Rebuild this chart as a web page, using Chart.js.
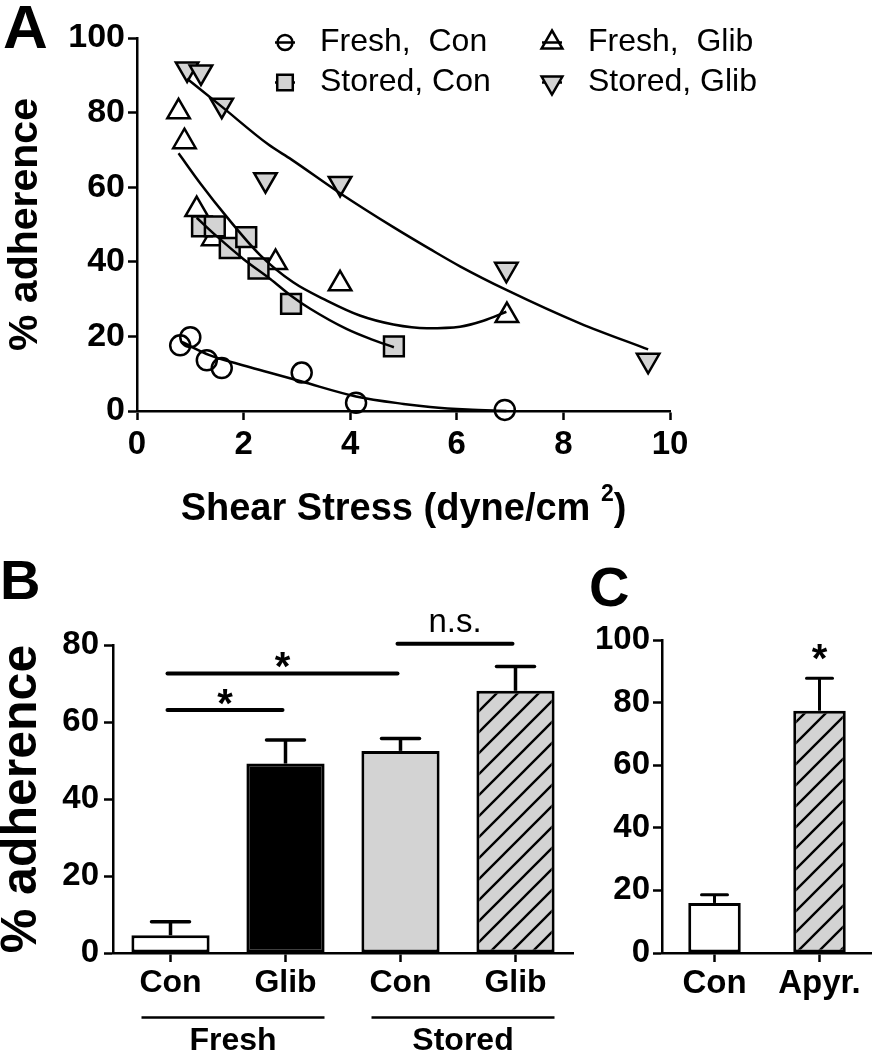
<!DOCTYPE html>
<html>
<head>
<meta charset="utf-8">
<script src="https://cdn.jsdelivr.net/npm/chart.js@4.4.1/dist/chart.umd.min.js"></script>
<style>
  html, body { margin: 0; padding: 0; background: #fff; }
  #wrap { position: relative; width: 872px; height: 1050px; overflow: hidden; background: #fff; }
  .box { position: absolute; }
  canvas { display: block; }
</style>
</head>
<body>
<div id="wrap">
  <div class="box" style="left:0;top:0;"><canvas id="cA" width="872" height="545"></canvas></div>
  <div class="box" style="left:0;top:560px;"><canvas id="cB" width="580" height="490"></canvas></div>
  <div class="box" style="left:580px;top:560px;"><canvas id="cC" width="292" height="490"></canvas></div>
</div>
<script>
// ---------------- DATA ----------------
// Panel A: measured points (shear stress, % adherence)
const freshConX   = [0.81, 1.00, 1.31, 1.59, 3.09, 4.11, 6.90];
const freshConY   = [17.6, 19.8, 13.6, 11.5, 10.3, 2.2, 0.3];
const freshGlibX  = [0.78, 0.89, 1.12, 1.43, 2.60, 3.81, 6.94];
const freshGlibY  = [80.2, 72.2, 54.0, 46.2, 39.8, 34.1, 25.6];
const storedConX  = [1.22, 1.46, 1.74, 2.05, 2.28, 2.89, 4.82];
const storedConY  = [49.5, 49.5, 43.7, 46.6, 38.2, 28.7, 17.3];
const storedGlibX = [0.94, 1.20, 1.59, 2.41, 3.81, 6.93, 9.59];
const storedGlibY = [91.7, 90.9, 82.0, 62.0, 61.0, 38.0, 13.6];

// Panel A: fitted curves
const fitFreshConX   = [0.84, 1.36, 2.00, 2.46, 3.09, 4.11, 5.00, 5.50, 6.20, 6.93];
const fitFreshConY   = [18.5, 15.0, 12.2, 10.4, 7.9, 3.9, 1.9, 1.1, 0.4, 0.0];
const fitFreshGlibX  = [0.78, 1.20, 1.68, 2.31, 2.93, 3.56, 4.18, 4.81, 5.44, 6.06, 6.50, 6.93];
const fitFreshGlibY  = [69.1, 60.8, 52.1, 41.8, 34.5, 29.6, 25.6, 23.2, 22.2, 22.6, 24.2, 26.6];
const fitStoredConX  = [1.12, 1.50, 2.00, 2.50, 2.89, 3.25, 3.93, 4.40, 4.82];
const fitStoredConY  = [51.8, 46.8, 40.7, 35.4, 30.9, 27.4, 22.0, 19.2, 17.1];
const fitStoredGlibX = [0.94, 1.59, 2.46, 2.90, 3.81, 4.81, 5.50, 6.06, 6.94, 8.31, 9.59];
const fitStoredGlibY = [89.1, 81.6, 71.5, 67.4, 58.4, 49.3, 43.4, 38.8, 32.4, 23.5, 16.5];

const seriesNamesA = ['Fresh,  Con', 'Fresh,  Glib', 'Stored, Con', 'Stored, Glib'];
const xTicksA = [0, 2, 4, 6, 8, 10];
const yTicksA = [0, 20, 40, 60, 80, 100];
const xTitleA = ['Shear Stress (dyne/cm ', '2', ')'];
const yTitle = '% adherence';

// Panel B
const catsB = ['Con', 'Glib', 'Con', 'Glib'];
const groupsB = ['Fresh', 'Stored'];
const meansB = [4.6, 49.2, 52.5, 68.1];
const semB = [3.5, 6.1, 3.2, 6.3];
const yTicksB = [0, 20, 40, 60, 80];
const sigPairsB = [[0, 1], [0, 2], [2, 3]];
const sigLevelB = [63.1, 72.6, 80.3];
const sigTextB = ['*', '*', 'n.s.'];

// Panel C
const catsC = ['Con', 'Apyr.'];
const meansC = [16.0, 77.4];
const semC = [2.6, 10.4];
const sigTextC = ['', '*'];
const yTicksC = [0, 20, 40, 60, 80, 100];

// ---------------- STYLE ----------------
const F = "'Liberation Sans', Arial, Helvetica, sans-serif";
const K = '#000';
const GRAY = '#d3d3d3';
const CLEAR = 'rgba(0,0,0,0)';

function hatch() {
  const p = document.createElement('canvas');
  p.width = 21; p.height = 21;
  const g = p.getContext('2d');
  g.fillStyle = GRAY; g.fillRect(0, 0, 21, 21);
  g.strokeStyle = K; g.lineWidth = 2.4; g.lineCap = 'square';
  g.beginPath();
  g.moveTo(-3, 3); g.lineTo(3, -3);
  g.moveTo(-3, 24); g.lineTo(24, -3);
  g.moveTo(18, 24); g.lineTo(24, 18);
  g.stroke();
  return g.createPattern(p, 'repeat');
}

const grid = { display: true, drawOnChartArea: false, drawTicks: true, tickLength: 9, tickWidth: 2.5, tickColor: K, offset: false };
const border = { display: true, color: K, width: 2.5 };
const pts = (xs, ys) => xs.map((x, i) => ({ x: x, y: ys[i] }));

function curve(xs, ys) {
  return { data: pts(xs, ys), showLine: true, borderColor: K, borderWidth: 2.5, pointRadius: 0,
           fill: false, cubicInterpolationMode: 'monotone', clip: false };
}
function marks(xs, ys, m) {
  return { data: pts(xs, ys), showLine: false, pointStyle: m.style, pointRotation: m.rot, pointRadius: m.r,
           pointBackgroundColor: m.fill, pointBorderColor: K, pointBorderWidth: 2.5, clip: false };
}

const markerStyles = [
  { style: 'circle',   rot: 0,   r: 10,   fill: CLEAR, lr: 7.5 },
  { style: 'triangle', rot: 0,   r: 13,   fill: CLEAR, lr: 12 },
  { style: 'rect',     rot: 0,   r: 14,   fill: GRAY,  lr: 11 },
  { style: 'triangle', rot: 180, r: 13,   fill: GRAY,  lr: 12 }
];

// ---------------- PANEL A ----------------
const annA = {
  id: 'annA',
  afterDraw(chart) {
    const ctx = chart.ctx, ca = chart.chartArea;
    ctx.save();
    ctx.fillStyle = K;
    ctx.font = 'bold 62px ' + F;
    ctx.textAlign = 'left'; ctx.textBaseline = 'alphabetic';
    ctx.fillText('A', 3, 48);

    // x-axis title with superscript
    const fMain = 'bold 38px ' + F, fSup = 'bold 23px ' + F;
    ctx.font = fMain; const w1 = ctx.measureText(xTitleA[0]).width, w3 = ctx.measureText(xTitleA[2]).width;
    ctx.font = fSup; const w2 = ctx.measureText(xTitleA[1]).width;
    let tx = (ca.left + ca.right) / 2 - (w1 + w2 + w3) / 2;
    const base = 520;
    ctx.font = fMain; ctx.fillText(xTitleA[0], tx, base); tx += w1;
    ctx.font = fSup; ctx.fillText(xTitleA[1], tx, base - 19); tx += w2;
    ctx.font = fMain; ctx.fillText(xTitleA[2], tx, base);

    // legend
    const colSym = [285, 552], colTxt = [320, 588], rowY = [42.5, 82.5];
    const order = [[0, 0], [1, 0], [0, 1], [1, 1]];
    ctx.font = '32px ' + F;
    ctx.textBaseline = 'middle';
    seriesNamesA.forEach((name, i) => {
      const [c, r] = order[i];
      const sx = colSym[c], sy = rowY[r];
      const m = markerStyles[i];
      ctx.strokeStyle = K; ctx.lineWidth = 2.5;
      ctx.beginPath(); ctx.moveTo(sx - 10, sy); ctx.lineTo(sx + 10, sy); ctx.stroke();
      ctx.fillStyle = m.fill;
      Chart.helpers.drawPoint(ctx, { pointStyle: m.style, radius: m.lr, rotation: m.rot, borderWidth: 2.5 }, sx, sy);
      ctx.fillStyle = K;
      ctx.fillText(name, colTxt[c], sy);
    });
    ctx.restore();
  }
};

new Chart(document.getElementById('cA'), {
  type: 'scatter',
  data: {
    datasets: [
      curve(fitFreshConX, fitFreshConY),
      curve(fitFreshGlibX, fitFreshGlibY),
      curve(fitStoredConX, fitStoredConY),
      curve(fitStoredGlibX, fitStoredGlibY),
      marks(freshConX, freshConY, markerStyles[0]),
      marks(storedConX, storedConY, markerStyles[2]),
      marks(freshGlibX, freshGlibY, markerStyles[1]),
      marks(storedGlibX, storedGlibY, markerStyles[3])
    ]
  },
  options: {
    responsive: false, animation: false, events: [],
    layout: { padding: { left: 0, right: 202, top: 38, bottom: 0 } },
    plugins: { legend: { display: false }, tooltip: { enabled: false } },
    scales: {
      x: {
        type: 'linear', min: xTicksA[0], max: xTicksA[xTicksA.length - 1],
        ticks: { stepSize: xTicksA[1] - xTicksA[0], color: K, font: { family: F, size: 33, weight: 'bold' }, padding: 5 },
        grid: grid, border: border,
        afterFit(s) { s.height = 134; }
      },
      y: {
        min: yTicksA[0], max: yTicksA[yTicksA.length - 1],
        ticks: { stepSize: yTicksA[1] - yTicksA[0], color: K, font: { family: F, size: 34, weight: 'bold' }, padding: 3 },
        grid: grid, border: border,
        title: { display: true, text: yTitle, color: K, font: { family: F, size: 41, weight: 'bold' }, padding: { top: 1, bottom: 0 } },
        afterFit(s) { s.width = 137; }
      }
    }
  },
  plugins: [annA]
});

// ---------------- PANEL B ----------------
const annB = {
  id: 'annB',
  afterDatasetsDraw(chart) {
    const ctx = chart.ctx, x = chart.scales.x, y = chart.scales.y;
    ctx.save();
    ctx.strokeStyle = K; ctx.fillStyle = K;
    meansB.forEach((m, i) => {
      const cx = x.getPixelForValue(i), y0 = y.getPixelForValue(m), y1 = y.getPixelForValue(m + semB[i]);
      ctx.lineWidth = 3.5; ctx.lineCap = 'butt';
      ctx.beginPath(); ctx.moveTo(cx, y0); ctx.lineTo(cx, y1); ctx.stroke();
      ctx.lineCap = 'round';
      ctx.beginPath(); ctx.moveTo(cx - 19, y1); ctx.lineTo(cx + 19, y1); ctx.stroke();
    });
    sigPairsB.forEach((pr, k) => {
      const xa = x.getPixelForValue(pr[0]) - 3, xb = x.getPixelForValue(pr[1]) - 3;
      const ly = y.getPixelForValue(sigLevelB[k]);
      ctx.lineWidth = 4; ctx.lineCap = 'round';
      ctx.beginPath(); ctx.moveTo(xa, ly); ctx.lineTo(xb, ly); ctx.stroke();
      ctx.textAlign = 'center'; ctx.textBaseline = 'alphabetic';
      if (sigTextB[k] === '*') {
        ctx.font = 'bold 40px ' + F;
        ctx.fillText('*', (xa + xb) / 2, ly + 7);
      } else {
        ctx.font = '33px ' + F;
        ctx.fillText(sigTextB[k], (xa + xb) / 2, ly - 12);
      }
    });
    groupsB.forEach((g, k) => {
      const a = x.getPixelForValue(2 * k) - 29, b = x.getPixelForValue(2 * k + 1) + 39;
      const gy = chart.chartArea.bottom + 64.5;
      ctx.lineWidth = 2.5; ctx.lineCap = 'butt';
      ctx.beginPath(); ctx.moveTo(a, gy); ctx.lineTo(b, gy); ctx.stroke();
      ctx.font = 'bold 32px ' + F; ctx.textAlign = 'center'; ctx.textBaseline = 'alphabetic';
      ctx.fillText(g, (a + b) / 2, gy + 32);
    });
    ctx.font = 'bold 56px ' + F; ctx.textAlign = 'left'; ctx.textBaseline = 'alphabetic';
    ctx.fillText('B', 0, 39);
    ctx.restore();
  }
};

new Chart(document.getElementById('cB'), {
  type: 'bar',
  data: {
    labels: catsB,
    datasets: [{
      data: meansB,
      backgroundColor: ['#ffffff', '#000000', GRAY, hatch()],
      borderColor: K, borderWidth: 3, borderSkipped: false,
      barPercentage: 0.68, categoryPercentage: 1
    }]
  },
  options: {
    responsive: false, animation: false, events: [],
    layout: { padding: { left: 0, right: 7, top: 85, bottom: 0 } },
    plugins: { legend: { display: false }, tooltip: { enabled: false } },
    scales: {
      x: {
        ticks: { color: K, font: { family: F, size: 32, weight: 'bold' }, padding: 2 },
        grid: grid, border: border,
        afterFit(s) { s.height = 97; }
      },
      y: {
        min: yTicksB[0], max: yTicksB[yTicksB.length - 1],
        ticks: { stepSize: yTicksB[1] - yTicksB[0], color: K, font: { family: F, size: 33, weight: 'bold' }, padding: 5 },
        grid: grid, border: border,
        title: { display: true, text: yTitle, color: K, font: { family: F, size: 50, weight: 'bold', lineHeight: 1 }, padding: { top: -3, bottom: 0 } },
        afterFit(s) { s.width = 113; }
      }
    }
  },
  plugins: [annB]
});

// ---------------- PANEL C ----------------
const annC = {
  id: 'annC',
  afterDatasetsDraw(chart) {
    const ctx = chart.ctx, x = chart.scales.x, y = chart.scales.y;
    ctx.save();
    ctx.strokeStyle = K; ctx.fillStyle = K;
    meansC.forEach((m, i) => {
      const cx = x.getPixelForValue(i), y0 = y.getPixelForValue(m), y1 = y.getPixelForValue(m + semC[i]);
      ctx.lineWidth = 3; ctx.lineCap = 'butt';
      ctx.beginPath(); ctx.moveTo(cx, y0); ctx.lineTo(cx, y1); ctx.stroke();
      ctx.lineCap = 'round';
      ctx.beginPath(); ctx.moveTo(cx - 13, y1); ctx.lineTo(cx + 13, y1); ctx.stroke();
      if (sigTextC[i]) {
        ctx.font = 'bold 40px ' + F; ctx.textAlign = 'center'; ctx.textBaseline = 'alphabetic';
        ctx.fillText(sigTextC[i], cx, y1 - 6);
      }
    });
    ctx.font = 'bold 56px ' + F; ctx.textAlign = 'left'; ctx.textBaseline = 'alphabetic';
    ctx.fillText('C', 9, 46);
    ctx.restore();
  }
};

new Chart(document.getElementById('cC'), {
  type: 'bar',
  data: {
    labels: catsC,
    datasets: [{
      data: meansC,
      backgroundColor: ['#ffffff', hatch()],
      borderColor: K, borderWidth: 3, borderSkipped: false,
      barPercentage: 0.5, categoryPercentage: 1
    }]
  },
  options: {
    responsive: false, animation: false, events: [],
    layout: { padding: { left: 0, right: 0, top: 80, bottom: 0 } },
    plugins: { legend: { display: false }, tooltip: { enabled: false } },
    scales: {
      x: {
        ticks: { color: K, font: { family: F, size: 33, weight: 'bold' }, padding: 2 },
        grid: grid, border: border,
        afterFit(s) { s.height = 97; }
      },
      y: {
        min: yTicksC[0], max: yTicksC[yTicksC.length - 1],
        ticks: { stepSize: yTicksC[1] - yTicksC[0], color: K, font: { family: F, size: 33, weight: 'bold' }, padding: 3 },
        grid: grid, border: border,
        afterFit(s) { s.width = 82; }
      }
    }
  },
  plugins: [annC]
});
</script>
</body>
</html>
